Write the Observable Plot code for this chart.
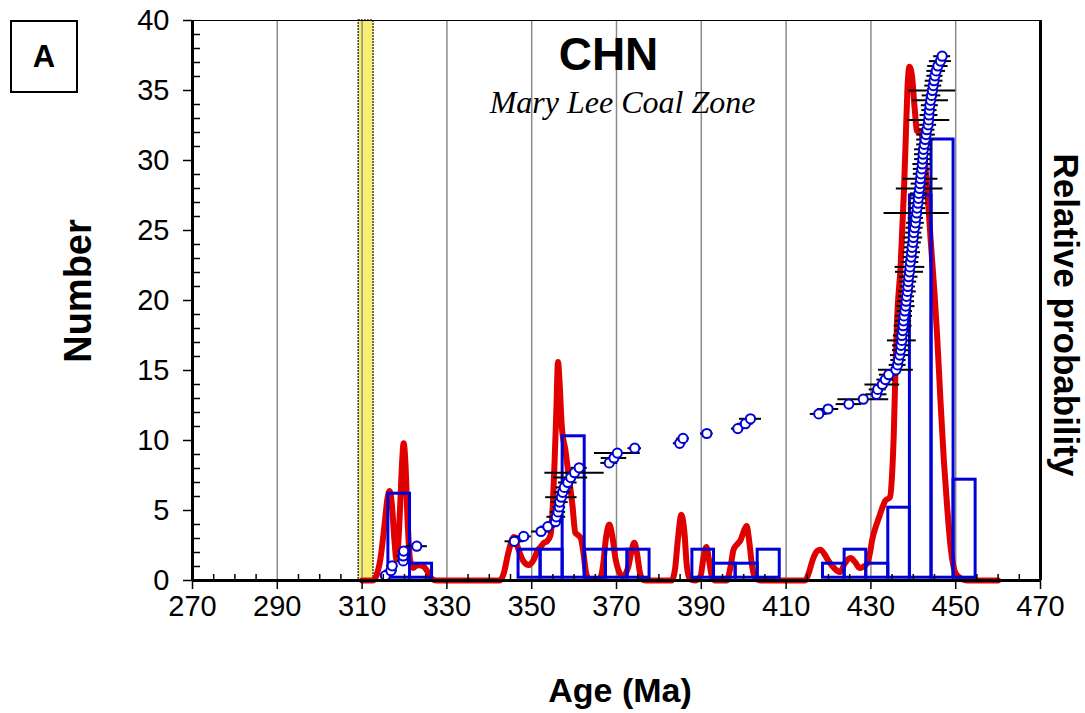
<!DOCTYPE html>
<html>
<head>
<meta charset="utf-8">
<script src="https://cdn.jsdelivr.net/npm/d3@7"></script>
<script src="https://cdn.jsdelivr.net/npm/@observablehq/plot@0.6"></script>
<style>
  html, body { margin: 0; padding: 0; background: #fff; }
  #wrap { position: relative; width: 1085px; height: 713px; font-family: "Liberation Sans", Arial, sans-serif; overflow: hidden; }
  .lab { position: absolute; font-weight: bold; color: #000; white-space: nowrap; line-height: 1; }
</style>
</head>
<body>
<div id="wrap"></div>
<script>
// ---- Data ----
// Probability density curve (age Ma, value on left-axis units)
const curveAge = [310, 312.5, 313.3, 314.3, 315.3, 316.0, 316.5, 317.0, 317.6, 318.1, 318.5, 319.0, 319.5, 319.8, 320.2, 320.7, 321.3, 322.0, 323.0, 324.5, 325.5, 326.5, 327.5,
  342.5, 343.4, 344.5, 345.8, 346.8, 348.0, 349.3, 350.5, 351.5, 352.1, 352.9, 353.6, 354.4, 355.0, 355.4, 355.8, 356.2, 356.6, 357.1, 358.0, 358.8, 359.6, 360.3, 361.1, 361.6, 362.1, 362.8, 363.5,
  366.0, 366.8, 367.5, 368.3, 369.0, 369.8, 370.5, 371.5, 372.8, 373.6, 374.2, 374.8, 375.5, 376.2, 377.0,
  383.0, 383.8, 384.5, 385.3, 386.0, 386.6, 387.3, 388.5, 389.8, 390.5, 391.2, 391.8, 392.5, 393.3,
  396.0, 396.9, 397.6, 398.5, 399.3, 400.0, 400.7, 401.3, 402.0, 402.7, 404.0,
  414.5, 415.3, 416.3, 417.3, 418.1, 419.0, 420.0, 421.0, 422.0, 422.8, 423.8, 425.2, 426.3, 427.3, 428.0, 429.1, 429.8, 430.3, 431.1, 431.9, 432.7, 433.4, 434.5, 435.0, 435.4, 435.8, 436.2, 437.0, 437.8, 438.2, 438.6, 439.1, 439.7, 440.3, 440.9, 441.7, 442.5, 443.3, 444.1, 445.0, 445.6, 446.4, 447.2, 448.0, 448.8, 450.0, 451.5, 452.7, 460];
const curveVal = [0, 0, 0.3, 1.5, 4.0, 5.9, 6.4, 5.5, 3.0, 1.5, 2.5, 5.5, 8.8, 9.8, 8.5, 4.5, 1.5, 0.9, 1.1, 1.0, 0.6, 0.1, 0,
  0, 0.5, 2.0, 3.1, 2.3, 1.4, 1.1, 1.5, 2.2, 2.4, 2.7, 2.8, 3.2, 5.5, 8.5, 12.0, 15.6, 14.0, 11.0, 9.2, 7.3, 5.4, 3.4, 3.2, 3.0, 2.2, 0.6, 0.1,
  0.1, 1.0, 3.0, 4.0, 3.2, 1.5, 0.7, 0.3, 1.0, 2.2, 2.7, 2.0, 0.6, 0.05, 0,
  0, 0.8, 3.0, 4.7, 3.5, 1.0, 0.1, 0, 0.3, 1.6, 2.4, 1.5, 0.3, 0,
  0, 1.0, 2.2, 2.6, 2.9, 3.5, 3.9, 2.8, 1.0, 0.2, 0,
  0, 0.5, 1.5, 2.1, 2.2, 1.9, 1.4, 1.0, 0.7, 0.6, 1.2, 1.6, 1.3, 0.9, 0.95, 1.2, 2.0, 2.9, 3.8, 4.5, 5.2, 5.7, 5.95, 7.6, 10.5, 15.2, 18.8, 22.4, 27.9, 31.4, 35.0, 36.7, 36.0, 33.8, 32.1, 32.1, 30.7, 27.9, 24.3, 20.5, 17.6, 12.9, 8.6, 5.2, 2.4, 0.5, 0.1, 0, 0];

// Histogram bins (left edge, right edge, drawn height)
const binLeft  = [316.2, 321.3, 346.9, 352.1, 357.3, 362.5, 367.5, 372.6, 387.9, 393.0, 398.1, 403.3, 418.7, 423.8, 428.9, 434.1, 439.2, 444.3, 449.5];
const binRight = [321.3, 326.5, 352.1, 357.3, 362.5, 367.5, 372.6, 377.8, 393.0, 398.1, 403.3, 408.5, 423.8, 428.9, 434.1, 439.2, 444.3, 449.5, 454.7];
const binHeight = [6.2, 1.2, 2.2, 2.2, 10.3, 2.2, 2.2, 2.2, 2.2, 1.2, 1.2, 2.2, 1.2, 2.2, 1.2, 5.2, 27.5, 31.5, 7.2];

// Individual analyses: age (Ma), cumulative position (Number), 1-sigma error (Ma)
const grainAge = [315.5, 316.8, 317.1, 319.7, 319.7, 319.8, 322.9,
  345.9, 348.1, 352.2, 353.8, 355.6, 355.8, 356.2, 356.5, 356.6, 357.0, 357.3, 357.7, 358.5, 359.2, 360.1, 361.2,
  368.3, 369.4, 370.2, 374.3, 384.9, 385.7, 391.3, 398.6, 400.4, 401.6, 417.7, 419.9, 424.8, 428.2,
  431.3, 431.6, 432.7, 433.4, 434.2, 435.9, 436.3, 436.5, 436.8, 437.0, 437.1, 437.3, 437.3, 437.5, 437.6, 437.7,
  437.8, 438.0, 438.2, 438.3, 438.4, 438.6, 438.7, 438.8, 438.9, 439.1, 439.2, 439.3, 439.5, 439.6, 439.7, 439.9,
  440.0, 440.1, 440.3, 440.5, 440.6, 440.8, 440.9, 441.1, 441.2, 441.3, 441.5, 441.6, 441.7, 441.8, 442.0, 442.1,
  442.2, 442.3, 442.4, 442.6, 442.8, 443.0, 443.2, 443.5, 443.6, 443.7, 443.8, 443.9, 444.1, 444.3, 444.5, 444.7,
  444.9, 445.1, 445.4, 445.8, 446.4, 446.8];
const grainY = [0.35, 0.70, 1.05, 1.40, 1.75, 2.10, 2.45, 2.80, 3.15, 3.50, 3.85, 4.20, 4.55, 4.90, 5.25, 5.60, 5.95, 6.30, 6.65, 7.00,
  7.35, 7.70, 8.05, 8.40, 8.75, 9.10, 9.45, 9.80, 10.15, 10.50, 10.85, 11.20, 11.55, 11.90, 12.25, 12.60, 12.95, 13.30, 13.65, 14.00,
  14.35, 14.70, 15.05, 15.40, 15.75, 16.10, 16.45, 16.80, 17.15, 17.50, 17.85, 18.20, 18.55, 18.90, 19.25, 19.60, 19.95, 20.30, 20.65, 21.00,
  21.35, 21.70, 22.05, 22.40, 22.75, 23.10, 23.45, 23.80, 24.15, 24.50, 24.85, 25.20, 25.55, 25.90, 26.25, 26.60, 26.95, 27.30, 27.65, 28.00,
  28.35, 28.70, 29.05, 29.40, 29.75, 30.10, 30.45, 30.80, 31.15, 31.50, 31.85, 32.20, 32.55, 32.90, 33.25, 33.60, 33.95, 34.30, 34.65, 35.00,
  35.35, 35.70, 36.05, 36.40, 36.75, 37.10, 37.45];
const grainErr = [1.2, 1.5, 1.3, 1.3, 1.5, 1.3, 2.5,
  2.2, 1.8, 2.2, 1.8, 1.5, 2.2, 1.8, 1.5, 2.0, 3.7, 2.0, 2.0, 2.2, 4.0, 7.0, 1.9,
  2.0, 3.0, 5.4, 1.6, 1.5, 1.5, 1.5, 1.5, 1.8, 2.6, 2.0, 2.5, 3.0, 6.0,
  2.5, 2.0, 4.1, 2.0, 2.2, 4.1, 2.0, 1.8, 2.2, 1.9, 2.0, 3.4, 2.0, 1.8, 2.1, 1.9,
  2.0, 1.8, 2.2, 2.0, 1.9, 2.1, 1.8, 2.0, 2.2, 3.3, 3.5, 2.0, 1.9, 2.1, 1.8, 2.0,
  2.2, 1.9, 2.0, 2.1, 1.8, 7.7, 2.0, 2.2, 1.9, 2.0, 5.5, 2.1, 4.1, 1.8, 2.0, 2.2,
  1.9, 2.0, 2.1, 1.8, 2.0, 2.2, 1.9, 2.0, 5.0, 2.1, 1.8, 2.0, 4.2, 2.2, 5.5, 2.0,
  2.1, 1.9, 2.2, 2.4, 2.6, 2.0];

// Shaded depositional age band
const bandAge = [309.2, 312.7];
// Axis ticks
const xMajor = [270, 290, 310, 330, 350, 370, 390, 410, 430, 450, 470];
const yMajor = [0, 5, 10, 15, 20, 25, 30, 35, 40];

// ---- Build ----
const curve = curveAge.map((a, i) => ({age: a, v: curveVal[i]}));
const bins = binLeft.map((l, i) => ({x1: l, x2: binRight[i], h: binHeight[i]}));
const grains = grainAge.map((a, i) => ({age: a, y: grainY[i], err: grainErr[i]}));
const xMinor = d3.range(270, 471, 5).filter(d => !xMajor.includes(d));
const yMinor = d3.range(0, 41, 1).filter(d => !yMajor.includes(d));

const RED = "#e00000", BLUE = "#0000d8";
const font = "Liberation Sans, Arial, sans-serif";

const chart = Plot.plot({
  width: 1085,
  height: 713,
  marginLeft: 192,
  marginRight: 45,
  marginTop: 20,
  marginBottom: 133,
  style: {fontFamily: font, background: "#fff", color: "#000"},
  x: {domain: [270, 470]},
  y: {domain: [0, 40]},
  marks: [
    Plot.rect([bandAge], {x1: d => d[0], x2: d => d[1], y1: 0, y2: 40, fill: "#f7ef72", stroke: "#000", strokeWidth: 1.5, strokeDasharray: "1.5,1.5"}),
    Plot.ruleX(xMajor.slice(1, -1), {stroke: "#8a8a8a", strokeWidth: 1.5}),
    Plot.line(curve, {x: "age", y: "v", stroke: RED, strokeWidth: 6, curve: "monotone-x", strokeLinejoin: "round", strokeLinecap: "round"}),
    Plot.rect(bins, {x1: "x1", x2: "x2", y1: 0.2, y2: "h", fill: "none", stroke: BLUE, strokeWidth: 3}),
    Plot.ruleY(grains, {y: "y", x1: d => d.age - d.err, x2: d => d.age + d.err, stroke: "#000", strokeWidth: 2}),
    Plot.dot(grains, {x: "age", y: "y", r: 4.6, fill: "#fff", stroke: BLUE, strokeWidth: 2}),
    // frame / axes lines
    Plot.ruleY([40], {stroke: "#000", strokeWidth: 1.2}),
    Plot.ruleX([470], {stroke: "#000", strokeWidth: 3}),
    Plot.ruleX([270], {stroke: "#000", strokeWidth: 3}),
    Plot.ruleY([0], {stroke: "#000", strokeWidth: 3}),
    // minor inward ticks
    Plot.ruleX(xMinor, {y1: 0, y2: 6 / 14, stroke: "#000", strokeWidth: 1.5}),
    Plot.ruleY(yMinor, {x1: 270, x2: 270 + 8 / 4.24, stroke: "#000", strokeWidth: 1.5}),
    Plot.axisX({ticks: xMajor, tickSize: 9, tickPadding: 6, fontSize: 29, label: null, strokeWidth: 1.5}),
    Plot.axisY({ticks: yMajor, tickSize: 9, tickPadding: 14, fontSize: 29, label: null, strokeWidth: 1.5}),
    Plot.text(["CHN"], {frameAnchor: "top", dx: -8, dy: 17, fontSize: 46, fontWeight: "bold", fontFamily: font, fill: "#000"}),
    Plot.text(["Mary Lee Coal Zone"], {frameAnchor: "top", dx: 6, dy: 70, fontSize: 32, fontStyle: "italic", fontFamily: "Liberation Serif, Times New Roman, serif", fill: "#000"})
  ]
});

const wrap = document.getElementById("wrap");
wrap.appendChild(chart);

function addLabel(text, css) {
  const d = document.createElement("div");
  d.className = "lab";
  d.textContent = text;
  Object.assign(d.style, css);
  wrap.appendChild(d);
  return d;
}
// panel letter box
addLabel("A", {left: "10px", top: "20px", width: "68px", height: "73px", border: "2px solid #000", fontSize: "31px", display: "flex", alignItems: "center", justifyContent: "center", boxSizing: "border-box"});
// x title
addLabel("Age (Ma)", {left: "620px", top: "690px", transform: "translate(-50%,-50%)", fontSize: "34px"});
// y title
addLabel("Number", {left: "78px", top: "291px", transform: "translate(-50%,-50%) rotate(-90deg)", fontSize: "38px"});
// right title
addLabel("Relative probability", {left: "1066px", top: "315px", transform: "translate(-50%,-50%) rotate(90deg)", fontSize: "35px"});
</script>
</body>
</html>
